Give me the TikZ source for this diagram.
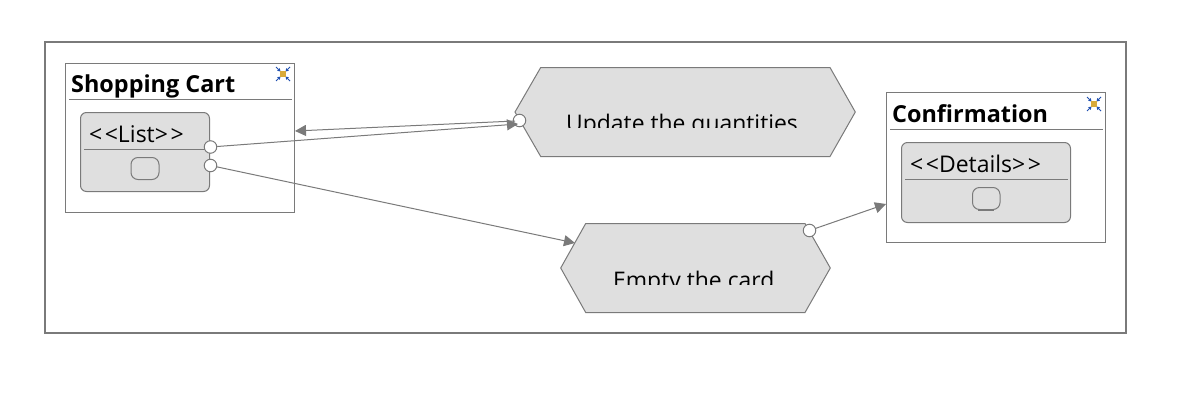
\documentclass[tikz,border=0pt]{standalone}
\usepackage{fontspec}
\setmainfont{Open Sans}
\usetikzlibrary{arrows.meta}
\definecolor{edgegrey}{HTML}{7A7A7A}
\definecolor{fillgrey}{HTML}{DFDFDF}
\definecolor{iconblue}{HTML}{1F4FB0}
\definecolor{icongold}{HTML}{D8A93A}
\tikzset{
  x=1pt,y=-1pt,
  outerframe/.style={draw=edgegrey,line width=1.6pt},
  classbox/.style={draw=edgegrey,fill=white,line width=1pt},
  rule/.style={draw=edgegrey,line width=1pt},
  innerbox/.style={draw=edgegrey,fill=fillgrey,line width=1pt,rounded corners=6pt},
  slot/.style={draw=edgegrey,line width=1pt,rounded corners=7pt},
  hexshape/.style={draw=edgegrey,fill=fillgrey,line width=1pt},
  port/.style={circle,draw=edgegrey,fill=white,line width=1pt,minimum size=12.5pt,inner sep=0pt},
  link/.style={draw=edgegrey,line width=1pt},
  arrowlink/.style={link,-{Triangle[length=11pt,width=11pt]}},
  titletext/.style={anchor=base west,inner sep=0pt,font=\fontsize{23.4}{24}\selectfont\bfseries,text=black},
  stereotext/.style={anchor=base west,inner sep=0pt,font=\fontsize{23}{24}\selectfont,text=black},
  hextext/.style={anchor=base west,inner sep=0pt,font=\fontsize{22.9}{24}\selectfont,text=black},
}
\newcommand{\collapseicon}[2]{%
  \begin{scope}[shift={(#1,#2)}]
    \draw[iconblue,line width=1pt,-{Triangle[length=3pt,width=3.5pt]}] (-7,-7)--(-2.5,-2.5);
    \draw[iconblue,line width=1pt,-{Triangle[length=3pt,width=3.5pt]}] (7,-7)--(2.5,-2.5);
    \draw[iconblue,line width=1pt,-{Triangle[length=3pt,width=3.5pt]}] (-7,7)--(-2.5,2.5);
    \draw[iconblue,line width=1pt,-{Triangle[length=3pt,width=3.5pt]}] (7,7)--(2.5,2.5);
    \fill[icongold] (-2.7,-2.7) rectangle (2.7,2.7);
  \end{scope}}
\newcommand{\dblangle}[1]{<\kern2.5pt<#1>\kern2.5pt>}
\begin{document}
\begin{tikzpicture}
\useasboundingbox (0,0) rectangle (1178,418);
\fill[white] (0,0) rectangle (1178,418);
\draw[outerframe] (45,42) rectangle (1126,333);

% Shopping Cart
\draw[classbox] (65.5,63) rectangle (294.5,212.5);
\node[titletext] (carttitle) at (71,92.5) {Shopping Cart};
\draw[rule] (69,99.5) -- (292,99.5);
\collapseicon{283}{74}
\draw[innerbox] (80.5,112.5) rectangle (209.5,191.5);
\node[stereotext] (listlabel) at (89,142) {\dblangle{List}};
\draw[rule] (84,149.5) -- (207,149.5);
\draw[slot] (131,157.5) rectangle (159,179.5);

% Confirmation
\draw[classbox] (886.5,92.5) rectangle (1105.5,242.5);
\node[titletext] (conftitle) at (892,122) {Confirmation};
\draw[rule] (890,129.5) -- (1103,129.5);
\collapseicon{1094}{104}
\draw[innerbox] (901.5,142.5) rectangle (1070.5,222.5);
\node[stereotext] (detlabel) at (910,172) {\dblangle{Details}};
\draw[rule] (905,179.5) -- (1068,179.5);
\draw[slot] (972.5,187.5) rectangle (1000,209.5);
\draw[edgegrey,line width=1.5pt] (978,210) -- (994,210);

% Hexagons
\draw[hexshape] (540.7,67.5) -- (830,67.5) -- (855.3,112) -- (830,156.5) -- (540.7,156.5) -- (515,112) -- cycle;
\begin{scope}
  \clip (520,100) rectangle (850,127.5);
  \node[hextext] (updatelabel) at (566,131.5) {Update the quantities};
\end{scope}
\draw[hexshape] (585.7,223.5) -- (805,223.5) -- (830.3,268) -- (805,312.5) -- (585.7,312.5) -- (560.7,268) -- cycle;
\begin{scope}
  \clip (570,260) rectangle (820,284);
  \node[hextext] (emptylabel) at (613,288) {Empty the card};
\end{scope}

% Ports and connector ends
\coordinate (cartin) at (295,131);
\coordinate (updatein) at (518,124);
\coordinate (updateout) at (515,121);
\coordinate (emptyin) at (575,243);
\coordinate (confin) at (886,204);
\node[port] (listporta) at (210.5,147) {};
\node[port] (listportb) at (210.5,165.5) {};
\node[port] (updateport) at (519.5,120.5) {};
\node[port] (emptyport) at (809.5,230.5) {};

% Connectors
\draw[arrowlink] (updateout) -- (cartin);
\draw[arrowlink] (listporta) -- (updatein);
\draw[arrowlink] (listportb) -- (emptyin);
\draw[arrowlink] (emptyport) -- (confin);
\end{tikzpicture}
\end{document}
